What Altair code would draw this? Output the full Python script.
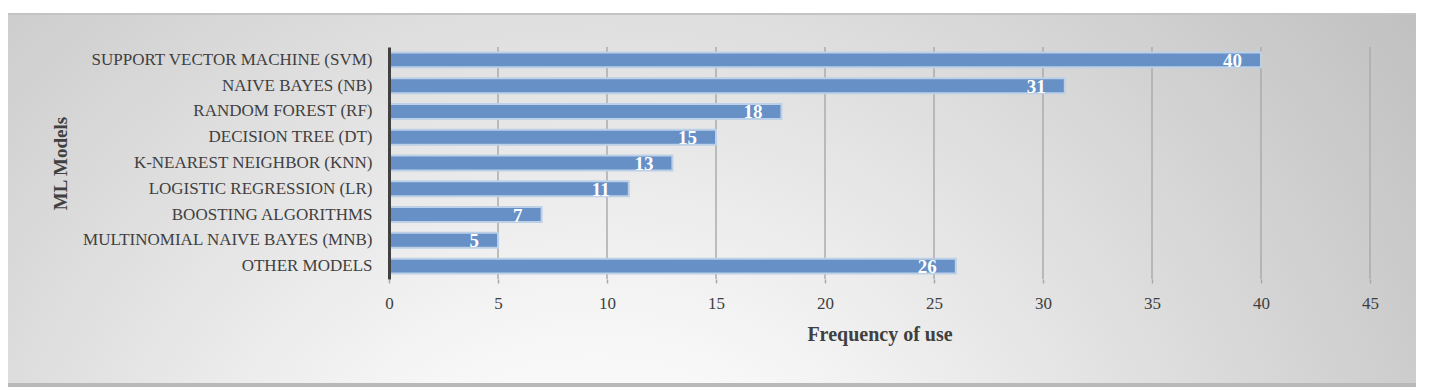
import altair as alt
import pandas as pd

models = [
    "SUPPORT VECTOR MACHINE (SVM)",
    "NAIVE BAYES (NB)",
    "RANDOM FOREST (RF)",
    "DECISION TREE (DT)",
    "K-NEAREST NEIGHBOR (KNN)",
    "LOGISTIC REGRESSION (LR)",
    "BOOSTING ALGORITHMS",
    "MULTINOMIAL NAIVE BAYES (MNB)",
    "OTHER MODELS",
]
frequency = [40, 31, 18, 15, 13, 11, 7, 5, 26]
x_ticks = [0, 5, 10, 15, 20, 25, 30, 35, 40, 45]

df = pd.DataFrame({"model": models, "freq": frequency})
grid_df = pd.DataFrame({"t": x_ticks[1:]})

W, H = 981, 232
FONT = "Liberation Serif"
TXT = "#404040"

bg_grad = alt.RadialGradient(
    gradient="radial",
    x1=0.42, y1=0.8, r1=0.0,
    x2=0.42, y2=0.8, r2=0.8,
    stops=[
        alt.GradientStop(offset=0.0, color="#ffffff"),
        alt.GradientStop(offset=0.25, color="#f7f7f7"),
        alt.GradientStop(offset=1.0, color="#b8b8b8"),
    ],
)

one = pd.DataFrame({"a": [0]})
bg = alt.Chart(one).mark_rect(fill=bg_grad).encode(
    x=alt.value(-384), x2=alt.value(1027), y=alt.value(-34), y2=alt.value(336)
)
top_line = alt.Chart(one).mark_rule(color="#c4c4c4", strokeWidth=2).encode(
    x=alt.value(-384), x2=alt.value(1027), y=alt.value(-33)
)
bot_line = alt.Chart(one).mark_rule(color="#b8b8b8", strokeWidth=4).encode(
    x=alt.value(-384), x2=alt.value(1027), y=alt.value(338)
)

x_scale = alt.Scale(domain=[0, 45], nice=False)

grid = alt.Chart(grid_df).mark_rule(color="#ababab", strokeWidth=1.5).encode(
    x=alt.X("t:Q", scale=x_scale), y=alt.value(0), y2=alt.value(H)
)

y_enc = alt.Y(
    "model:N",
    sort=models,
    scale=alt.Scale(paddingInner=0.42, paddingOuter=0.21),
    axis=alt.Axis(
        title="ML Models",
        titleFont=FONT, titleFontSize=19, titleFontWeight="bold", titleColor=TXT,
        titleX=-329, titleY=H / 2, titleAngle=270,
        titleAlign="center", titleBaseline="middle",
        labelFont=FONT, labelFontSize=17, labelColor=TXT, labelPadding=17,
        labelLimit=500,
        ticks=False, domainColor="#404040", domainWidth=3, grid=False, zindex=1,
    ),
)
x_enc = alt.X(
    "freq:Q",
    scale=x_scale,
    axis=alt.Axis(
        values=x_ticks, title="Frequency of use",
        titleFont=FONT, titleFontSize=20, titleFontWeight="bold", titleColor=TXT,
        titlePadding=13,
        labelFont=FONT, labelFontSize=17, labelColor=TXT, labelPadding=12,
        labelFlush=False,
        tickSize=4, tickColor="#a8a8a8", tickWidth=1.5,
        domain=False, grid=False, zindex=1,
    ),
)

bars = alt.Chart(df).mark_bar(
    color="#6690c6", stroke="#bcd0e8", strokeWidth=2
).encode(x=x_enc, y=y_enc)

labels = alt.Chart(df).mark_text(
    align="right", baseline="middle", dx=-19, dy=1,
    font=FONT, fontSize=19, fontWeight="bold", color="white"
).encode(x="freq:Q", y=alt.Y("model:N", sort=models), text="freq:Q")

chart = alt.layer(bg, top_line, bot_line, grid, bars, labels).properties(
    width=W, height=H,
    autosize=alt.AutoSizeParams(type="none"),
    padding={"left": 381, "top": 39, "right": 52, "bottom": 108},
).configure_view(stroke=None).configure(background="white")

chart.save("out.html", embed_options={"renderer": "svg", "actions": False})
